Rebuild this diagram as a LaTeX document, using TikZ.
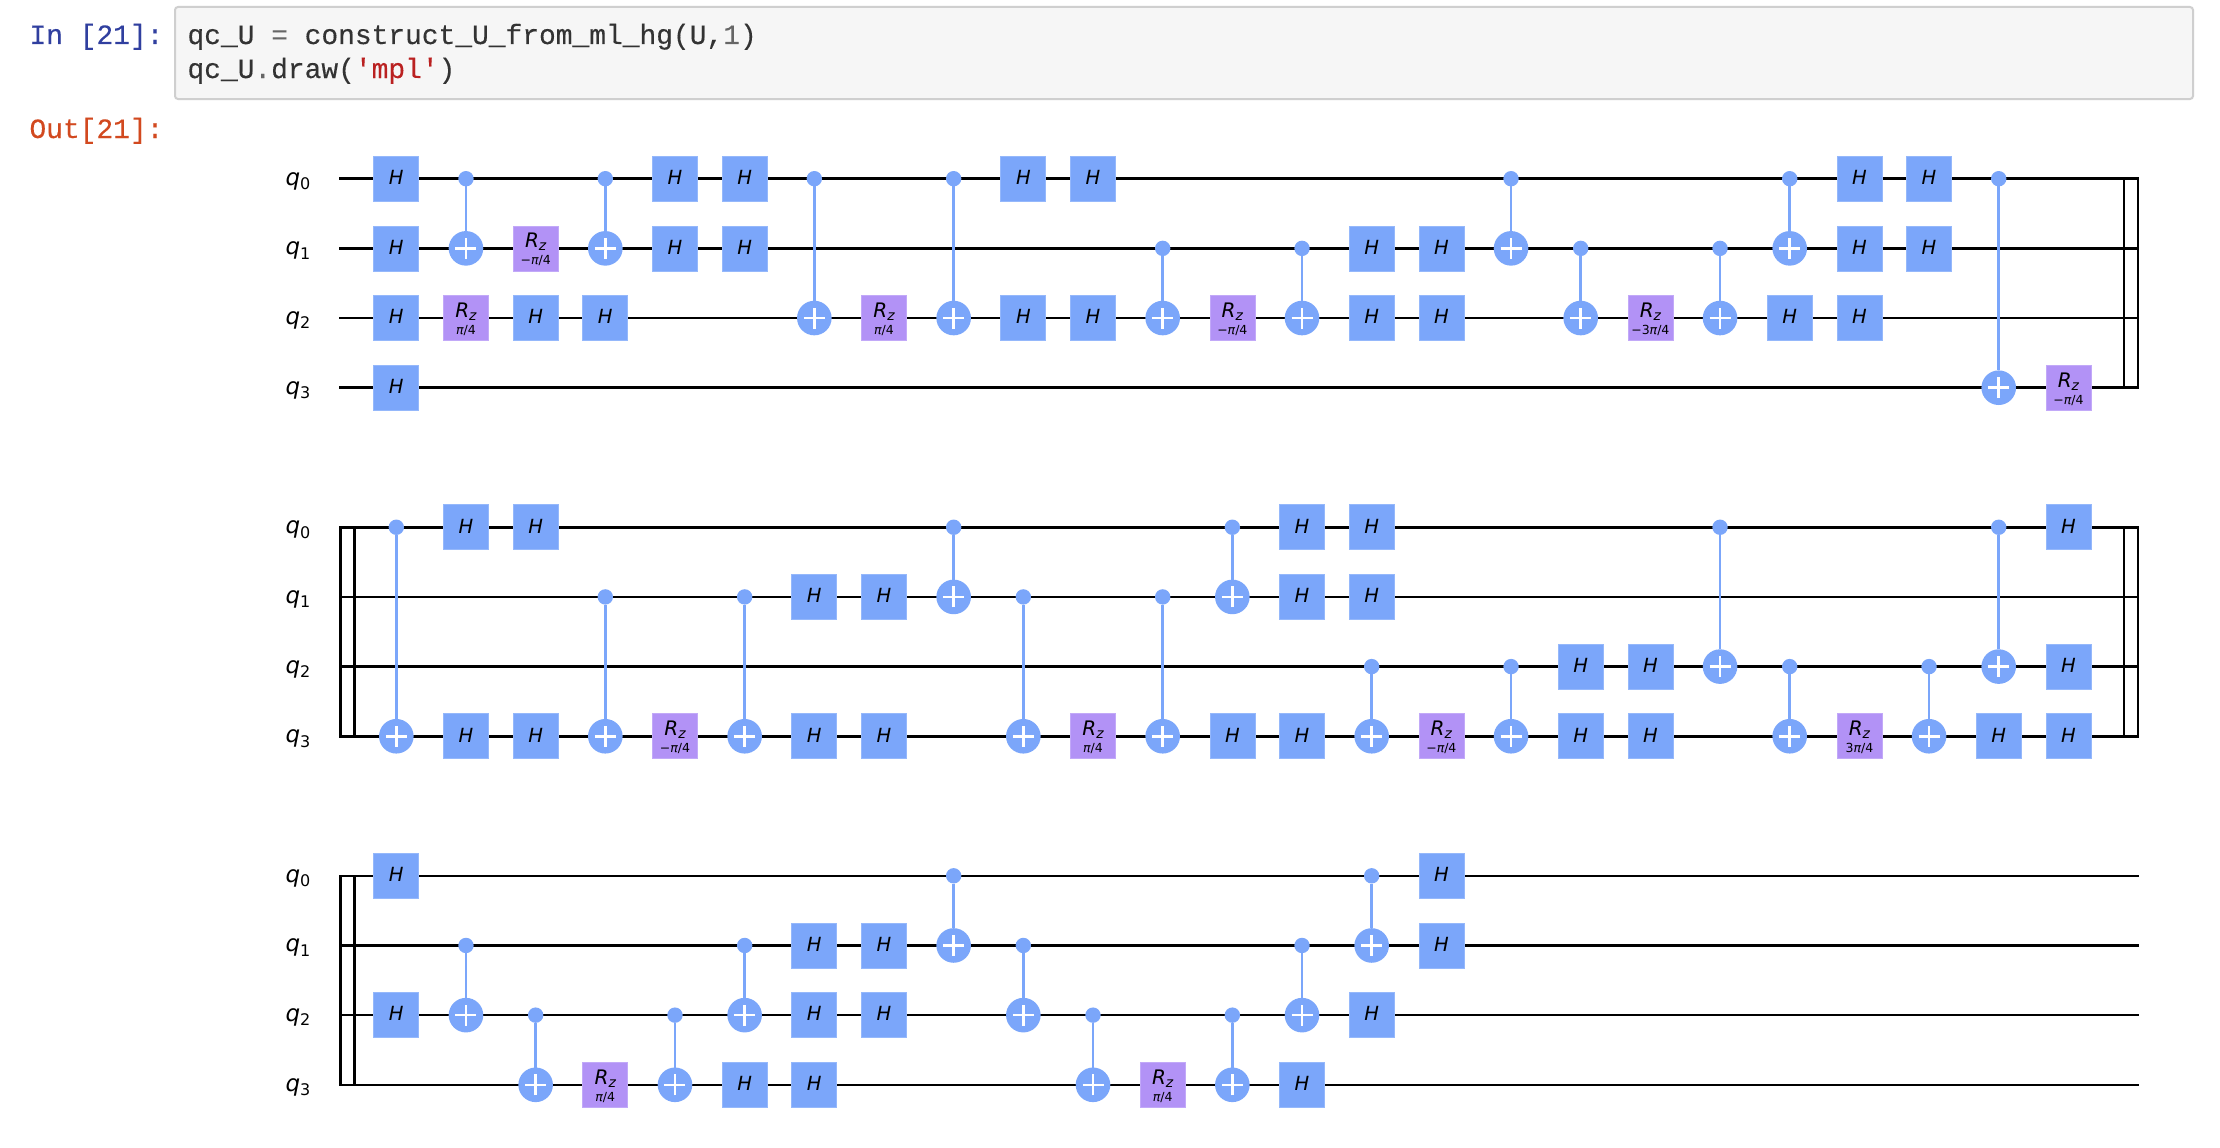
\documentclass[tikz,border=0pt]{standalone}
\usepackage{fontspec}
\setmainfont{DejaVu Sans}
\newfontfamily\codefont[FakeBold=0.25]{Liberation Mono}
\definecolor{hblue}{HTML}{7BA6FA}
\definecolor{hedge}{HTML}{95B8FB}
\definecolor{rzpur}{HTML}{B292F6}
\definecolor{rzedge}{HTML}{C2A9F8}
\definecolor{incol}{HTML}{303F9F}
\definecolor{outcol}{HTML}{D2491F}
\definecolor{codecol}{HTML}{333333}
\definecolor{opcol}{HTML}{666666}
\definecolor{strcol}{HTML}{BA2121}
\tikzset{
  wire/.style={draw=black,line width=2.6pt},
  barline/.style={draw=black,line width=2.2pt,line cap=rect},
  hgate/.style={rectangle,fill=hblue,draw=hedge,line width=0.7pt,minimum width=45pt,minimum height=45pt,inner sep=0pt,outer sep=0pt,text=black},
  rzgate/.style={rectangle,fill=rzpur,draw=rzedge,line width=0.7pt,minimum width=45pt,minimum height=45pt,inner sep=0pt,outer sep=0pt},
  ctrl/.style={circle,fill=hblue,draw=none,minimum size=15.4pt,inner sep=0pt,outer sep=0pt},
  targ/.style={circle,fill=hblue,draw=none,minimum size=34.6pt,inner sep=0pt,outer sep=0pt},
  cxline/.style={draw=hblue,line width=2.7pt},
  plusline/.style={draw=white,line width=2.6pt},
  txt/.style={inner sep=0pt,outer sep=0pt,anchor=base},
  prompt/.style={inner sep=0pt,outer sep=0pt,anchor=base west},
}
\newcommand\gatefont{\fontsize{19.5}{19.5}\selectfont\itshape}
\newcommand\tinyfont{\fontsize{12.5}{12.5}\selectfont}
\newcommand\monofont{\codefont\fontsize{27.9}{27.9}\selectfont}
\newcommand\pf{{\itshape π}/4}
\newcommand\mpf{−{\itshape π}/4}
\newcommand\tpf{3{\itshape π}/4}
\newcommand\mtpf{−3{\itshape π}/4}
\newcommand\setpos[3]{\pgfmathsetmacro\gx{396.3+69.67*#2}\pgfmathsetmacro\gy{178.7+348.55*#1+69.67*#3}}
\newcommand\Hg[3]{\setpos{#1}{#2}{#3}%
  \node[hgate] (h#1-#2-#3) at (\gx,\gy) {};
  \node[txt] (ht#1-#2-#3) at (\gx,\gy+5.8) {\gatefont H};}
\newcommand\Rzg[4]{\setpos{#1}{#2}{#3}%
  \node[rzgate] (r#1-#2-#3) at (\gx,\gy) {};
  \node[txt] (rt#1-#2-#3) at (\gx,\gy-0.4) {\fontsize{20}{20}\selectfont\itshape R\raisebox{-3pt}{\fontsize{14}{14}\selectfont z}};
  \node[txt] (ra#1-#2-#3) at (\gx,\gy+16.6) {\tinyfont #4};}
\newcommand\CX[4]{\setpos{#1}{#2}{#3}%
  \node[ctrl] (c#1-#2) at (\gx,\gy) {};
  \setpos{#1}{#2}{#4}%
  \node[targ] (t#1-#2) at (\gx,\gy) {};
  \draw[cxline] (c#1-#2) -- (t#1-#2);
  \draw[plusline] ([xshift=-10.5pt]t#1-#2.center) -- ([xshift=10.5pt]t#1-#2.center);
  \draw[plusline] ([yshift=-10.5pt]t#1-#2.center) -- ([yshift=10.5pt]t#1-#2.center);}
\newcommand\Wires[1]{%
  \foreach \q in {0,1,2,3}{
    \setpos{#1}{0}{\q}
    \coordinate (wl#1-\q) at (339,\gy);
    \coordinate (wr#1-\q) at (2139,\gy);
    \draw[wire] (wl#1-\q) -- (wr#1-\q);
    \node[prompt] (lab#1-\q) at (285.5,\gy+6.5) {\fontsize{23}{23}\selectfont\itshape q\raisebox{-4.3pt}{\upshape\fontsize{16}{16}\selectfont\q}};
  }}
\begin{document}
\begin{tikzpicture}[x=1pt,y=-1pt]
\useasboundingbox (0,0) rectangle (2220,1148);
\fill[white] (0,0) rectangle (2220,1148);
% notebook chrome
\node[prompt,text=incol] (inlab) at (29.5,44) {\monofont In [21]:};
\node[prompt,text=outcol] (outlab) at (29.5,138) {\monofont Out[21]:};
\draw[fill=black!3.5,draw=black!19,line width=2pt,rounded corners=3pt] (175,7) rectangle (2193,99);
\node[prompt,text=codecol] (code1) at (187.5,44) {\monofont qc\_U {\color{opcol}=} construct\_U\_from\_ml\_hg(U,{\color{opcol}1})};
\node[prompt,text=codecol] (code2) at (187.5,78) {\monofont qc\_U{\color{opcol}.}draw({\color{strcol}'mpl'})};
% wires
\Wires{0}\Wires{1}\Wires{2}
% wrap-around lines
\foreach \x [count=\i] in {2124,2138}{
  \foreach \r in {0,1}{
    \setpos{\r}{0}{0}
    \coordinate (bt\r-\i) at (\x,\gy);
    \setpos{\r}{0}{3}
    \coordinate (bb\r-\i) at (\x,\gy);
    \draw[barline] (bt\r-\i) -- (bb\r-\i);
  }}
\foreach \x [count=\i] in {340.5,354.5}{
  \foreach \r in {1,2}{
    \setpos{\r}{0}{0}
    \coordinate (lt\r-\i) at (\x,\gy);
    \setpos{\r}{0}{3}
    \coordinate (lb\r-\i) at (\x,\gy);
    \draw[barline] (lt\r-\i) -- (lb\r-\i);
  }}
% row 0
\foreach \c/\q in {0/0,0/1,0/2,0/3,2/2,3/2,4/0,4/1,5/0,5/1,9/0,9/2,10/0,10/2,14/1,14/2,15/1,15/2,20/2,21/0,21/1,21/2,22/0,22/1}{\Hg{0}{\c}{\q}}
\foreach \c/\q/\a in {1/2/\pf,2/1/\mpf,7/2/\pf,12/2/\mpf,18/2/\mtpf,24/3/\mpf}{\Rzg{0}{\c}{\q}{\a}}
\foreach \c/\a/\b in {1/0/1,3/0/1,6/0/2,8/0/2,11/1/2,13/1/2,16/0/1,17/1/2,19/1/2,20/0/1,23/0/3}{\CX{0}{\c}{\a}{\b}}
% row 1
\foreach \c/\q in {1/0,1/3,2/0,2/3,6/1,6/3,7/1,7/3,12/3,13/0,13/1,13/3,14/0,14/1,17/2,17/3,18/2,18/3,23/3,24/0,24/2,24/3}{\Hg{1}{\c}{\q}}
\foreach \c/\q/\a in {4/3/\mpf,10/3/\pf,15/3/\mpf,21/3/\tpf}{\Rzg{1}{\c}{\q}{\a}}
\foreach \c/\a/\b in {0/0/3,3/1/3,5/1/3,8/0/1,9/1/3,11/1/3,12/0/1,14/2/3,16/2/3,19/0/2,20/2/3,22/2/3,23/0/2}{\CX{1}{\c}{\a}{\b}}
% row 2
\foreach \c/\q in {0/0,0/2,5/3,6/1,6/2,6/3,7/1,7/2,13/3,14/2,15/0,15/1}{\Hg{2}{\c}{\q}}
\foreach \c/\q/\a in {3/3/\pf,11/3/\pf}{\Rzg{2}{\c}{\q}{\a}}
\foreach \c/\a/\b in {1/1/2,2/2/3,4/2/3,5/1/2,8/0/1,9/1/2,10/2/3,12/2/3,13/1/2,14/0/1}{\CX{2}{\c}{\a}{\b}}
\end{tikzpicture}
\end{document}
